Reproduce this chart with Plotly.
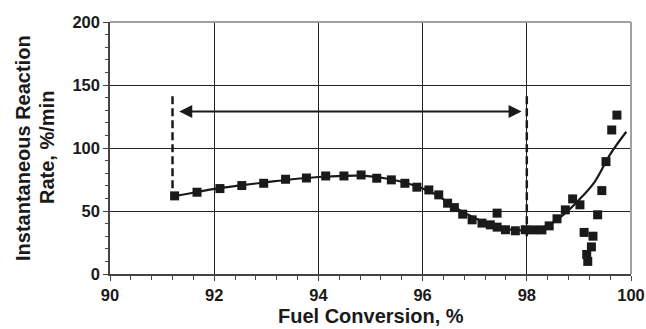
import plotly.graph_objects as go

# measured data points
conv = [91.24, 91.67, 92.11, 92.53, 92.95, 93.37, 93.77, 94.14, 94.49, 94.82,
        95.12, 95.40, 95.66, 95.89, 96.12, 96.31, 96.48, 96.61, 96.77, 96.95,
        97.14, 97.30, 97.43, 97.43, 97.59, 97.78, 97.97, 98.13, 98.29, 98.43,
        98.58, 98.74, 98.88, 99.02, 99.10, 99.27, 99.24, 99.15, 99.17, 99.36,
        99.44, 99.52, 99.63, 99.73]
rate = [62.0, 64.9, 67.8, 70.2, 72.0, 75.2, 76.2, 77.8, 77.8, 78.6,
        76.0, 74.7, 72.0, 68.9, 66.7, 62.8, 56.2, 52.7, 47.5, 43.0,
        40.4, 39.0, 48.3, 37.2, 35.1, 34.3, 35.1, 35.0, 35.0, 38.2,
        43.8, 50.9, 59.6, 54.9, 33.0, 30.0, 21.5, 15.5, 10.0, 47.0,
        66.2, 89.2, 114.3, 126.1]

# trend curve
fit_x = [91.2, 91.6, 92.0, 92.5, 93.0, 93.5, 94.0, 94.5, 94.9, 95.3, 95.7,
         96.0, 96.3, 96.6, 97.0, 97.4, 97.8, 98.1, 98.4, 98.7, 99.0, 99.3,
         99.6, 99.91]
fit_y = [61.5, 64.5, 67.5, 70.3, 72.8, 75.2, 77.0, 77.9, 77.8, 75.8, 72.0,
         67.8, 62.0, 53.5, 44.5, 38.0, 34.8, 35.0, 38.5, 47.0, 58.8, 73.0,
         95.0, 112.9]

# bracket marking the range
bracket_x = [91.2, 98.0]
bracket_top = [141, 141]
bracket_bottom = [67, 30]
arrow_y = 129
arrow_x = [91.3, 97.9]

x_title = "Fuel Conversion, %"
y_title_lines = ["Instantaneous Reaction", "Rate, %/min"]

ink = "#1a1a1a"
fig = go.Figure()

for bx, bt, bb in zip(bracket_x, bracket_top, bracket_bottom):
    fig.add_trace(go.Scatter(x=[bx, bx], y=[bt, bb], mode="lines",
                             line=dict(color=ink, width=2.5, dash="8px,4px"),
                             showlegend=False, hoverinfo="skip"))

fig.add_trace(go.Scatter(x=fit_x, y=fit_y, mode="lines", line_shape="spline",
                         line=dict(color=ink, width=2.2), showlegend=False))
fig.add_trace(go.Scatter(x=conv, y=rate, mode="markers",
                         marker=dict(symbol="square", size=9, color=ink,
                                     line=dict(width=0)),
                         showlegend=False))

fig.add_annotation(x=arrow_x[1], y=arrow_y, ax=arrow_x[0], ay=arrow_y,
                   xref="x", yref="y", axref="x", ayref="y", text="",
                   showarrow=True, arrowhead=2, arrowside="end+start",
                   arrowsize=1.3, arrowwidth=2, arrowcolor=ink)

FONT = "Liberation Sans, Arial, sans-serif"
tickfont = dict(family=FONT, size=16.5, color=ink)
titlefont = dict(family=FONT, size=20, color=ink)

L, R, T, B = 110, 15, 22, 55
W, H = 646, 329
pw = W - L - R
ph = H - T - B

fig.add_annotation(text="<b>%s</b>" % x_title, xref="paper", yref="paper",
                   x=0.5, y=(-(316 - (H - B)) / ph), xanchor="center",
                   yanchor="middle", showarrow=False, font=titlefont)
for xp, line in zip([23, 47], y_title_lines):
    fig.add_annotation(text="<b>%s</b>" % line, xref="paper", yref="paper",
                       x=(xp - L) / pw, y=0.5, xanchor="center",
                       yanchor="middle", textangle=-90, showarrow=False,
                       font=titlefont)

fig.update_layout(
    width=W, height=H,
    margin=dict(l=L, r=R, t=T, b=B),
    paper_bgcolor="white", plot_bgcolor="white",
    xaxis=dict(range=[90, 100], dtick=2, tick0=90, showgrid=True,
               gridcolor="#222", gridwidth=1, zeroline=False, automargin=False,
               showline=True, linecolor="#444", linewidth=1.5,
               ticks="outside", ticklen=5, tickcolor="#444",
               minor=dict(dtick=0.4, ticks="outside", ticklen=4,
                          tickcolor="#444", showgrid=False),
               tickfont=tickfont,
               tickprefix="<b>", ticksuffix="</b>"),
    yaxis=dict(range=[0, 200], dtick=50, showgrid=True,
               gridcolor="#222", gridwidth=1, zeroline=False, automargin=False,
               showline=True, linecolor="#444", linewidth=1.5,
               ticks="outside", ticklen=5, tickcolor="#444",
               minor=dict(dtick=10, ticks="outside", ticklen=3,
                          tickcolor="#444", showgrid=False),
               tickfont=tickfont,
               tickprefix="<b>", ticksuffix="</b>"),
    shapes=[
        dict(type="line", xref="x domain", yref="y domain", x0=0, x1=1,
             y0=1, y1=1, line=dict(color="#a0a0a0", width=2), layer="above"),
        dict(type="line", xref="x domain", yref="y domain", x0=1, x1=1,
             y0=0, y1=1, line=dict(color="#a0a0a0", width=2), layer="above"),
    ],
)

fig.write_html("out.html")
